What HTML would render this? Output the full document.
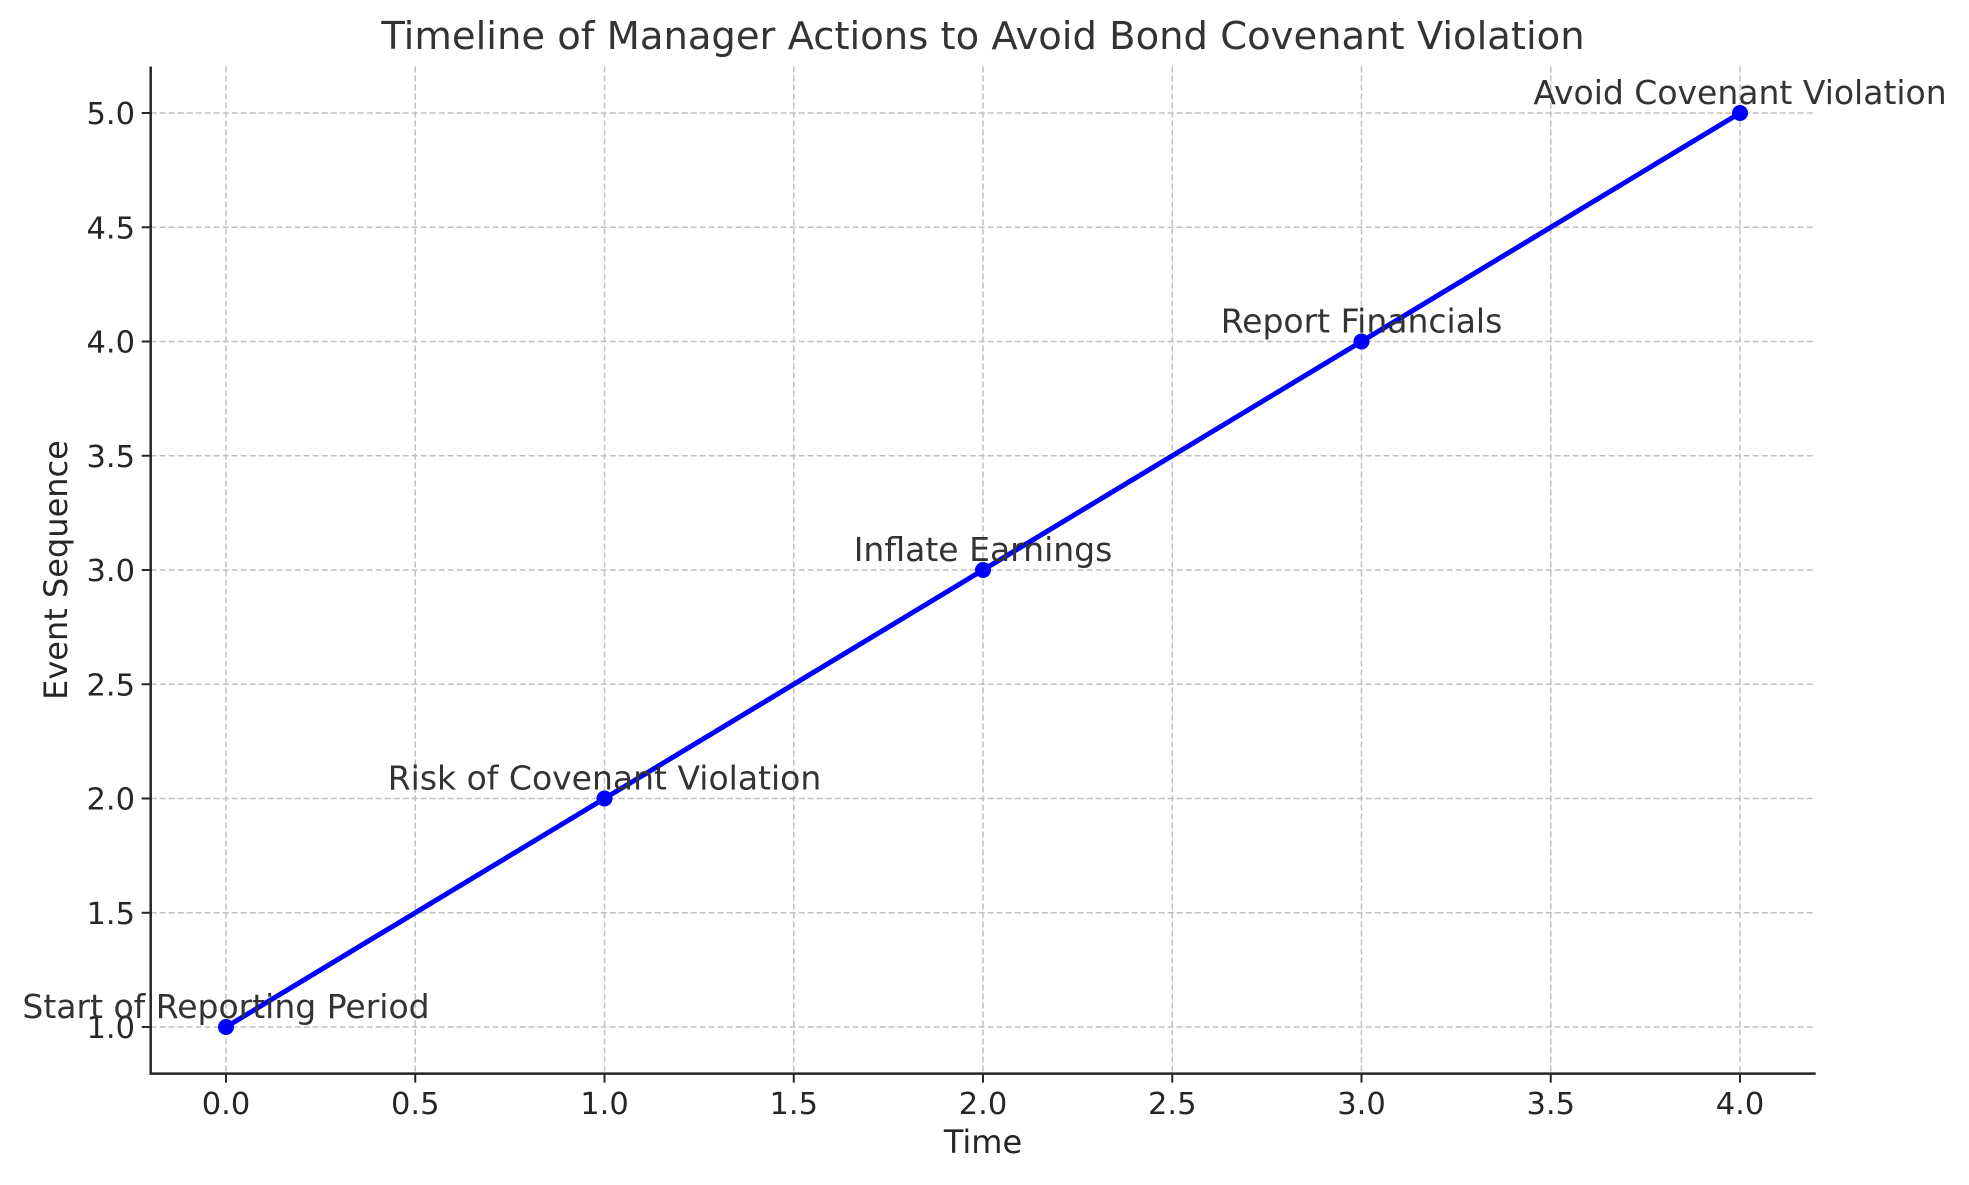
<!DOCTYPE html>
<html><head><meta charset="utf-8"><style>
body{margin:0;background:#fff}
svg text{font-family:"DejaVu Sans","Liberation Sans",sans-serif}
</style></head><body>
<svg id="chart" width="1969" height="1180" xmlns="http://www.w3.org/2000/svg">
<rect width="1969" height="1180" fill="#fff"/>
<text x="983" y="49" font-size="38.5" fill="#333" text-anchor="middle">Timeline of Manager Actions to Avoid Bond Covenant Violation</text>
<g id="grid"></g><g id="axes"></g><g id="marks"></g>
<text x="983" y="1153" font-size="32" fill="#262626" text-anchor="middle">Time</text>
<text transform="translate(67,570) rotate(-90)" font-size="32" fill="#262626" text-anchor="middle">Event Sequence</text>
</svg>
<script>
const times=[0,1,2,3,4];
const events=[1,2,3,4,5];
const labels=["Start of Reporting Period","Risk of Covenant Violation","Inflate Earnings","Report Financials","Avoid Covenant Violation"];
const xTicks=[0,0.5,1,1.5,2,2.5,3,3.5,4];
const yTicks=[1,1.5,2,2.5,3,3.5,4,4.5,5];
const L=150.7,R=1815.7,T=66.5,B=1073.6;
const X0=226,XU=378.5,Y1=1027,YU=228.5;
const sx=v=>X0+v*XU, sy=v=>Y1-(v-1)*YU;
const NS="http://www.w3.org/2000/svg";
function mk(p,t,a){const e=document.createElementNS(NS,t);for(const k in a)e.setAttribute(k,a[k]);p.appendChild(e);return e;}
const grid=document.getElementById('grid'),axes=document.getElementById('axes'),marks=document.getElementById('marks');
xTicks.forEach(v=>{
 const g=mk(grid,'line',{x1:sx(v),x2:sx(v),y1:T,y2:B,stroke:'#c0c0c0','stroke-width':1.5,'stroke-dasharray':'6,3'});
 
 
 mk(axes,'line',{x1:sx(v),x2:sx(v),y1:B,y2:B+9,stroke:'#262626','stroke-width':2});
 const t=mk(axes,'text',{x:sx(v),y:1114,'font-size':30.5,fill:'#262626','text-anchor':'middle'});
 t.textContent=v.toFixed(1);
 
 
});
yTicks.forEach(v=>{
 const g=mk(grid,'line',{x1:L,x2:R,y1:sy(v),y2:sy(v),stroke:'#c0c0c0','stroke-width':1.5,'stroke-dasharray':'6,3'});
 
 
 mk(axes,'line',{x1:L-9,x2:L,y1:sy(v),y2:sy(v),stroke:'#262626','stroke-width':2});
 const t=mk(axes,'text',{x:135,y:sy(v)+11,'font-size':30.5,fill:'#262626','text-anchor':'end'});
 t.textContent=v.toFixed(1);
 
 
});
const sp=mk(axes,'path',{d:`M${L},${T}V${B}H${R}`,fill:'none',stroke:'#262626','stroke-width':2.5});


const line=mk(marks,'polyline',{points:times.map((t,i)=>sx(t)+','+sy(events[i])).join(' '),fill:'none',stroke:'#0000ff','stroke-width':5});


times.forEach((t,i)=>{
 const c=mk(marks,'circle',{cx:sx(t),cy:sy(events[i]),r:8,fill:'#0000ff'});
 
 
 const a=mk(marks,'text',{x:sx(t),y:sy(events[i])-9,'font-size':33,fill:'#333','text-anchor':'middle'});
 a.textContent=labels[i];
 
 
});
</script>
</body></html>
